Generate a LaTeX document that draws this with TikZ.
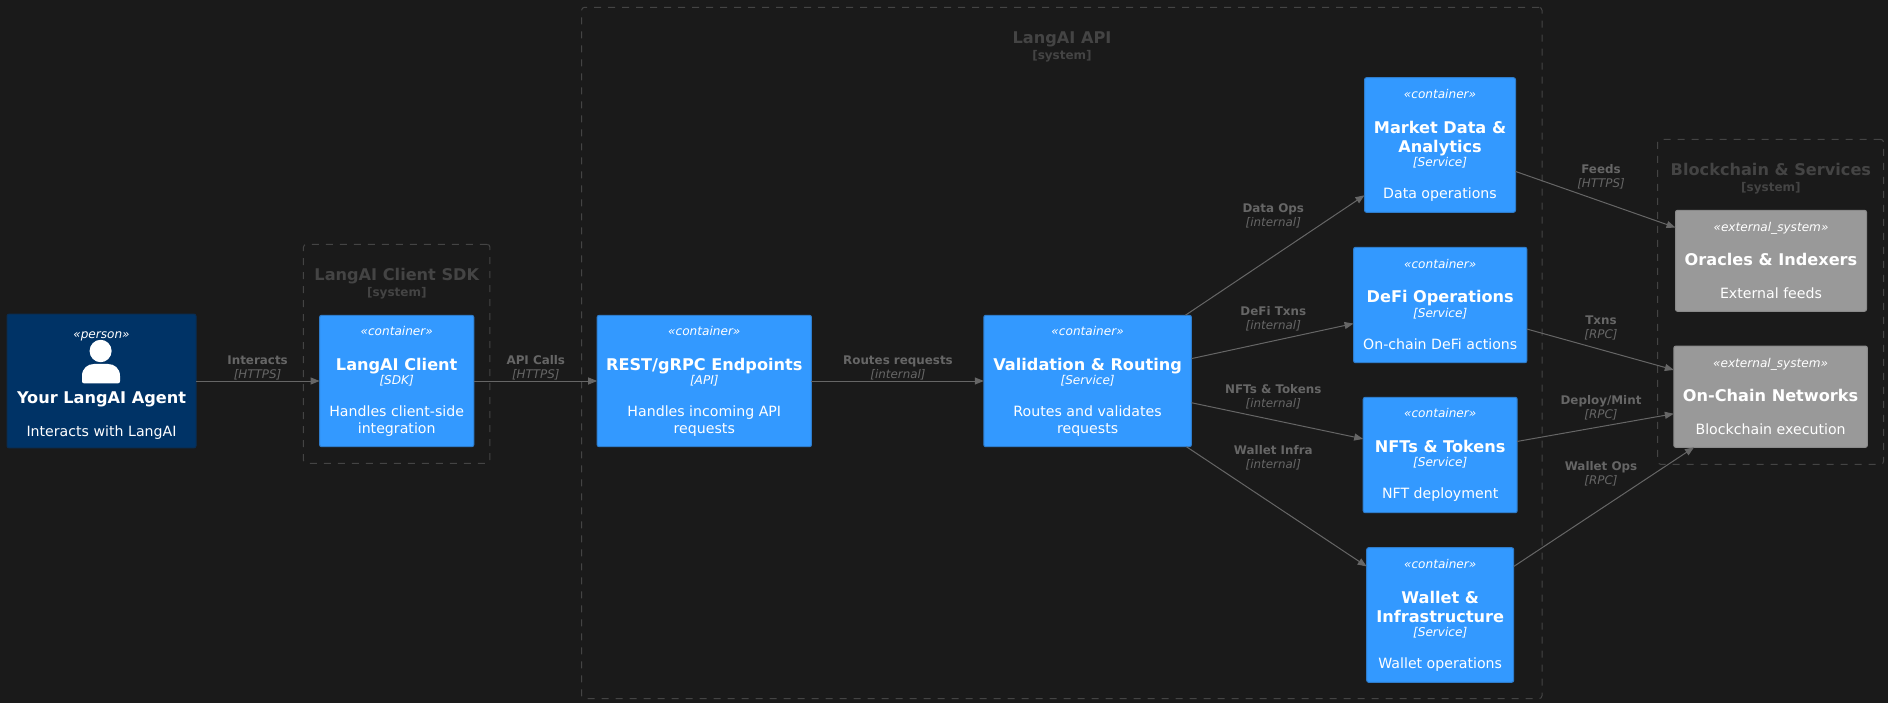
\documentclass[tikz,border=0pt]{standalone}
\usepackage{fontspec}
\setmainfont{DejaVu Sans}
\usetikzlibrary{arrows.meta}
\definecolor{pagebg}{HTML}{1A1A1A}
\definecolor{personbg}{HTML}{003366}
\definecolor{personline}{HTML}{0A2D52}
\definecolor{containerbg}{HTML}{3399FF}
\definecolor{containerline}{HTML}{2E7CCB}
\definecolor{externalbg}{HTML}{999999}
\definecolor{externalline}{HTML}{8A8A8A}
\definecolor{clusterline}{HTML}{444444}
\definecolor{linkgray}{HTML}{666666}
\newcommand{\tightlines}{\lineskiplimit=-30pt\relax}
\newcommand{\stereo}[1]{{\fontsize{12.1}{14}\selectfont\itshape «#1»}}
\newcommand{\boxtitle}[1]{{\fontsize{16.15}{19}\selectfont\bfseries #1}}
\newcommand{\boxtech}[1]{{\fontsize{12.1}{14}\selectfont\itshape [#1]}}
\newcommand{\linktext}[2]{{\bfseries #1}\\{\itshape [#2]}}
\begin{document}
\begin{tikzpicture}[x=1pt, y=-1pt]
\tikzstyle{basebox}=[rectangle, draw, rounded corners=2pt, line width=1pt, outer sep=0pt, inner sep=0pt, text=white, align=center, font=\fontsize{14.15}{17}\selectfont\tightlines]
\tikzstyle{person}=[basebox, fill=personbg, draw=personline]
\tikzstyle{container}=[basebox, fill=containerbg, draw=containerline]
\tikzstyle{external}=[basebox, fill=externalbg, draw=externalline]
\tikzstyle{cluster}=[rectangle, draw=clusterline, dash pattern=on 7pt off 7pt, rounded corners=3pt, line width=1pt, outer sep=0pt]
\tikzstyle{clustertitle}=[text=clusterline, align=center, inner sep=0pt, font=\fontsize{14}{17}\selectfont\bfseries\tightlines]
\tikzstyle{link}=[draw=linkgray, line width=1pt, -{Triangle[length=9pt, width=7pt]}]
\tikzstyle{linklabel}=[text=linkgray, align=center, inner sep=0pt, font=\fontsize{11.9}{14}\selectfont\tightlines]
    \useasboundingbox[fill=pagebg] (0,0) rectangle (1888,703);
    \node [cluster, minimum width=186.5pt, minimum height=219pt] (sdk) at (396.7,353.8) {};
    \node [cluster, minimum width=960.4pt, minimum height=691.4pt] (api) at (1061.8,353) {};
    \node [cluster, minimum width=225.9pt, minimum height=325pt] (chain) at (1770.6,301.8) {};
    \node [clustertitle] (sdktitle) at (396.8,283.6) {{\fontsize{16.15}{19}\selectfont LangAI Client SDK}\\[-1pt]{\fontsize{12}{14}\selectfont [system]}};
    \node [clustertitle] (apititle) at (1062,47) {{\fontsize{16.15}{19}\selectfont LangAI API}\\[-1pt]{\fontsize{12}{14}\selectfont [system]}};
    \node [clustertitle] (chaintitle) at (1770.9,178.7) {{\fontsize{16.15}{19}\selectfont Blockchain \& Services}\\[-1pt]{\fontsize{12}{14}\selectfont [system]}};
    \node [person, minimum width=189pt, minimum height=133.7pt] (agent) at (101.5,381) {\rule{0pt}{16pt}\stereo{person}\\[48pt]\boxtitle{Your LangAI Agent}\\[16pt]Interacts with LangAI};
    \fill [white] (100.6,351) ellipse [x radius=11, y radius=11.2];
    \fill [white] (84,383.3) .. controls (82.5,383.3) and (82,382.5) .. (82,381) -- (82,376) .. controls (82,368) and (88,364) .. (94,364) -- (108,364) .. controls (114,364) and (120,368) .. (120,376) -- (120,381) .. controls (120,382.5) and (119.5,383.3) .. (118,383.3) -- cycle;
    \node [container, minimum width=154.2pt, minimum height=131.4pt] (client) at (396.7,381) {\stereo{container}\\[18pt]\boxtitle{LangAI Client}\\[-3pt]\boxtech{SDK}\\[15pt]Handles client-side\\integration};
    \node [container, minimum width=214.3pt, minimum height=131.4pt] (rest) at (704.3,381) {\stereo{container}\\[18pt]\boxtitle{REST/gRPC Endpoints}\\[-3pt]\boxtech{API}\\[15pt]Handles incoming API\\requests};
    \node [container, minimum width=207.6pt, minimum height=131.4pt] (routing) at (1087.6,381) {\stereo{container}\\[18pt]\boxtitle{Validation \& Routing}\\[-3pt]\boxtech{Service}\\[15pt]Routes and validates\\requests};
    \node [container, minimum width=151pt, minimum height=134.6pt] (market) at (1440,145) {\stereo{container}\\[18pt]\boxtitle{Market Data \&}\\[2pt]\boxtitle{Analytics}\\[-3pt]\boxtech{Service}\\[15pt]Data operations};
    \node [container, minimum width=173.3pt, minimum height=115.4pt] (defi) at (1440.2,305) {\stereo{container}\\[17pt]\boxtitle{DeFi Operations}\\[-2pt]\boxtech{Service}\\[15pt]On-chain DeFi actions};
    \node [container, minimum width=154pt, minimum height=115.4pt] (nft) at (1440.2,455) {\stereo{container}\\[18pt]\boxtitle{NFTs \& Tokens}\\[-3pt]\boxtech{Service}\\[15pt]NFT deployment};
    \node [container, minimum width=147pt, minimum height=134.6pt] (wallet) at (1440.2,615) {\stereo{container}\\[18pt]\boxtitle{Wallet \&}\\[2pt]\boxtitle{Infrastructure}\\[-3pt]\boxtech{Service}\\[15pt]Wallet operations};
    \node [external, minimum width=191pt, minimum height=101pt] (oracles) at (1771,260.8) {\stereo{external\_system}\\[17pt]\boxtitle{Oracles \& Indexers}\\[16pt]External feeds};
    \node [external, minimum width=193.5pt, minimum height=101.3pt] (onchain) at (1770.6,396.7) {\stereo{external\_system}\\[17pt]\boxtitle{On-Chain Networks}\\[16pt]Blockchain execution};
    \draw [link] (agent) -- (client);
    \draw [link] (client) -- (rest);
    \draw [link] (rest) -- (routing);
    \draw [link] (routing) -- (market);
    \draw [link] (routing) -- (defi);
    \draw [link] (routing) -- (nft);
    \draw [link] (routing) -- (wallet);
    \draw [link] (market) -- (oracles);
    \draw [link] (defi) -- (onchain);
    \draw [link] (nft) -- (onchain);
    \draw [link] (wallet) -- (onchain);
    \node [linklabel] (interacts) at (257.6,367.5) {\linktext{Interacts}{HTTPS}};
    \node [linklabel] (apicalls) at (535.8,367.5) {\linktext{API Calls}{HTTPS}};
    \node [linklabel] (routes) at (898,367.6) {\linktext{Routes requests}{internal}};
    \node [linklabel] (dataops) at (1273.3,215.8) {\linktext{Data Ops}{internal}};
    \node [linklabel] (defitxns) at (1273.3,318.5) {\linktext{DeFi Txns}{internal}};
    \node [linklabel] (nfts) at (1273.3,396.6) {\linktext{NFTs \& Tokens}{internal}};
    \node [linklabel] (walletinfra) at (1273.3,457.5) {\linktext{Wallet Infra}{internal}};
    \node [linklabel] (feeds) at (1601,176.5) {\linktext{Feeds}{HTTPS}};
    \node [linklabel] (txns) at (1601,327.8) {\linktext{Txns}{RPC}};
    \node [linklabel] (deploy) at (1601,407.6) {\linktext{Deploy/Mint}{RPC}};
    \node [linklabel] (walletops) at (1601,473.8) {\linktext{Wallet Ops}{RPC}};
\end{tikzpicture}
\end{document}
